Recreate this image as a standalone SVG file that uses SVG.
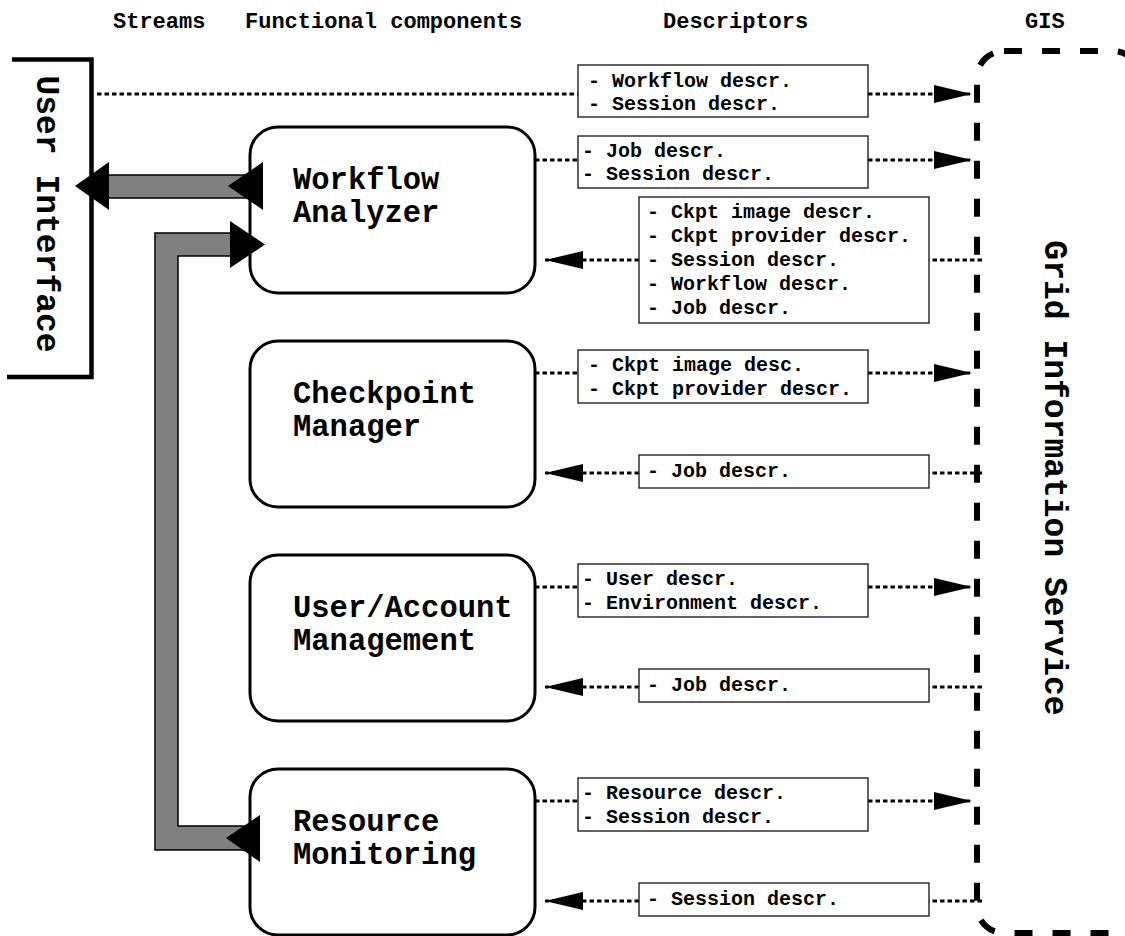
<svg xmlns="http://www.w3.org/2000/svg" width="1125" height="936" viewBox="0 0 1125 936">
<style>
  .hdr { font-family: "Liberation Mono", "Courier New", monospace; font-weight: bold; font-size: 22px; fill: #000; }
  .lbl { font-family: "Liberation Mono", "Courier New", monospace; font-weight: bold; font-size: 30.5px; fill: #000; }
  .big { font-family: "Liberation Mono", "Courier New", monospace; font-weight: bold; font-size: 33px; fill: #000; }
  .dsc { font-family: "Liberation Mono", "Courier New", monospace; font-weight: bold; font-size: 20px; fill: #000; }
  .node { fill: #fff; stroke: #000; stroke-width: 3; }
  .dbox { fill: #fff; stroke: #222; stroke-width: 1.4; }
  .dot { fill: none; stroke: #000; stroke-width: 3; stroke-dasharray: 4.5 3; }
  .stream { fill: #808080; stroke: #000; stroke-width: 1.5; }
  .head { fill: #000; }
</style>
<defs>
  <marker id="ah" markerUnits="userSpaceOnUse" markerWidth="38" markerHeight="18" refX="38" refY="9" orient="auto">
    <path d="M0,0 L38,9 L0,18 Z" fill="#000"/>
  </marker>
</defs>
<rect x="0" y="0" width="1125" height="936" fill="#fff"/>

<g id="headers">
  <text class="hdr" x="113" y="28">Streams</text>
  <text class="hdr" x="245" y="28">Functional components</text>
  <text class="hdr" x="663" y="28">Descriptors</text>
  <text class="hdr" x="1025" y="28">GIS</text>
</g>

<g id="user-interface">
  <path d="M12,59.5 L91.5,59.5 L91.5,377 L7,377" fill="none" stroke="#000" stroke-width="4.5"/>
  <text class="big" transform="translate(37,214) rotate(90)" text-anchor="middle">User Interface</text>
</g>

<g id="gis">
  <rect x="977" y="51" width="163" height="882" rx="27" fill="none" stroke="#000" stroke-width="6" stroke-dasharray="18 20"/>
  <text class="big" transform="translate(1045,478) rotate(90)" text-anchor="middle">Grid Information Service</text>
</g>

<g id="connectors">
  <line class="dot" x1="97" y1="94" x2="578" y2="94"/>
  <line class="dot" x1="868" y1="94" x2="972" y2="94" marker-end="url(#ah)"/>
  <line class="dot" x1="535" y1="160" x2="578" y2="160"/>
  <line class="dot" x1="868" y1="160" x2="972" y2="160" marker-end="url(#ah)"/>
  <line class="dot" x1="982" y1="260" x2="929" y2="260"/>
  <line class="dot" x1="639" y1="260" x2="545" y2="260" marker-end="url(#ah)"/>
  <line class="dot" x1="535" y1="373" x2="578" y2="373"/>
  <line class="dot" x1="868" y1="373" x2="972" y2="373" marker-end="url(#ah)"/>
  <line class="dot" x1="982" y1="473" x2="929" y2="473"/>
  <line class="dot" x1="639" y1="473" x2="545" y2="473" marker-end="url(#ah)"/>
  <line class="dot" x1="535" y1="587" x2="578" y2="587"/>
  <line class="dot" x1="868" y1="587" x2="972" y2="587" marker-end="url(#ah)"/>
  <line class="dot" x1="982" y1="687" x2="929" y2="687"/>
  <line class="dot" x1="639" y1="687" x2="545" y2="687" marker-end="url(#ah)"/>
  <line class="dot" x1="535" y1="801" x2="578" y2="801"/>
  <line class="dot" x1="868" y1="801" x2="972" y2="801" marker-end="url(#ah)"/>
  <line class="dot" x1="982" y1="901" x2="929" y2="901"/>
  <line class="dot" x1="639" y1="901" x2="545" y2="901" marker-end="url(#ah)"/>
</g>

<g id="workflow-analyzer">
  <rect class="node" x="250" y="127" width="285" height="166" rx="28"/>
  <text class="lbl" x="293" y="189">Workflow</text>
  <text class="lbl" x="293" y="222">Analyzer</text>
</g>
<g id="checkpoint-manager">
  <rect class="node" x="250" y="341" width="285" height="166" rx="28"/>
  <text class="lbl" x="293" y="403">Checkpoint</text>
  <text class="lbl" x="293" y="436">Manager</text>
</g>
<g id="user-account-management">
  <rect class="node" x="250" y="555" width="285" height="166" rx="28"/>
  <text class="lbl" x="293" y="617">User/Account</text>
  <text class="lbl" x="293" y="650">Management</text>
</g>
<g id="resource-monitoring">
  <rect class="node" x="250" y="769" width="285" height="166" rx="28"/>
  <text class="lbl" x="293" y="831">Resource</text>
  <text class="lbl" x="293" y="864">Monitoring</text>
</g>

<g id="streams">
  <rect class="stream" x="105" y="175" width="144" height="23"/>
  <polygon class="stream" points="232,233 155,233 155,850 248,850 248,826 178,826 178,256 232,256"/>
  <polygon class="head" points="75,186 109,162 109,210"/>
  <polygon class="head" points="228,186 263,162 263,210"/>
  <polygon class="head" points="265,244.5 230,221 230,268"/>
  <polygon class="head" points="226,838 260,815 260,862"/>
</g>

<g id="desc-ui">
  <rect class="dbox" x="578" y="65" width="290" height="52"/>
  <text class="dsc" x="588" y="87">- Workflow descr.</text>
  <text class="dsc" x="588" y="110">- Session descr.</text>
</g>
<g id="desc-wa-out">
  <rect class="dbox" x="578" y="136" width="290" height="52"/>
  <text class="dsc" x="582" y="157">- Job descr.</text>
  <text class="dsc" x="582" y="180">- Session descr.</text>
</g>
<g id="desc-wa-in">
  <rect class="dbox" x="639" y="197" width="290" height="126"/>
  <text class="dsc" x="647" y="218">- Ckpt image descr.</text>
  <text class="dsc" x="647" y="242">- Ckpt provider descr.</text>
  <text class="dsc" x="647" y="266">- Session descr.</text>
  <text class="dsc" x="647" y="290">- Workflow descr.</text>
  <text class="dsc" x="647" y="314">- Job descr.</text>
</g>
<g id="desc-cm-out">
  <rect class="dbox" x="578" y="350" width="290" height="53"/>
  <text class="dsc" x="588" y="371">- Ckpt image desc.</text>
  <text class="dsc" x="588" y="395">- Ckpt provider descr.</text>
</g>
<g id="desc-cm-in">
  <rect class="dbox" x="639" y="455" width="290" height="33"/>
  <text class="dsc" x="647" y="477">- Job descr.</text>
</g>
<g id="desc-ua-out">
  <rect class="dbox" x="578" y="564" width="290" height="53"/>
  <text class="dsc" x="582" y="585">- User descr.</text>
  <text class="dsc" x="582" y="609">- Environment descr.</text>
</g>
<g id="desc-ua-in">
  <rect class="dbox" x="639" y="669" width="290" height="33"/>
  <text class="dsc" x="647" y="691">- Job descr.</text>
</g>
<g id="desc-rm-out">
  <rect class="dbox" x="578" y="778" width="290" height="53"/>
  <text class="dsc" x="582" y="799">- Resource descr.</text>
  <text class="dsc" x="582" y="823">- Session descr.</text>
</g>
<g id="desc-rm-in">
  <rect class="dbox" x="639" y="883" width="290" height="33"/>
  <text class="dsc" x="647" y="905">- Session descr.</text>
</g>
</svg>
